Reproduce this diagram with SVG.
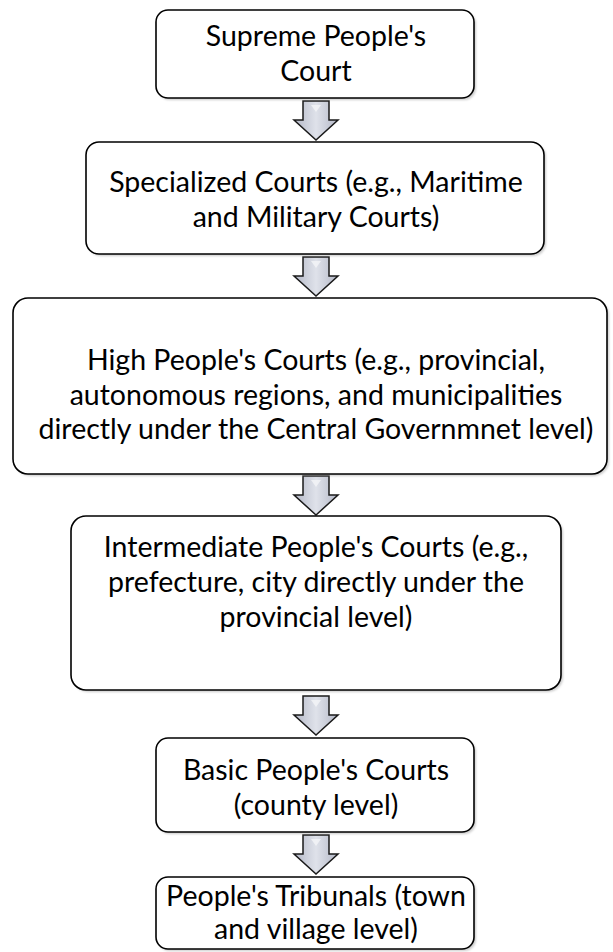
<svg xmlns="http://www.w3.org/2000/svg" width="613" height="952" viewBox="0 0 613 952">
  <style>
    .box { fill: #ffffff; stroke: #000000; stroke-width: 1.6; }
    .shadow { fill: #8c8c8c; opacity: 0.45; filter: url(#soft); }
    .label { font-family: Lato, "Open Sans", sans-serif; font-size: 28.5px; fill: #000000; text-anchor: middle; }
    .arrow { fill: url(#arrowFill); stroke: #1a1a1a; stroke-width: 1.5; stroke-linejoin: miter; }
    .shine { fill: #f4f5f8; opacity: 0.8; }
  </style>
  <defs>
    <filter id="soft" x="-5%" y="-5%" width="110%" height="115%">
      <feGaussianBlur stdDeviation="1.2"/>
    </filter>
    <linearGradient id="arrowFill" x1="0" y1="0" x2="1" y2="0">
      <stop offset="0" stop-color="#b4b8c7"/>
      <stop offset="0.5" stop-color="#dfe2ea"/>
      <stop offset="1" stop-color="#b4b8c7"/>
    </linearGradient>
    <!-- down block arrow, origin at top centre of the shaft -->
    <path id="downArrow" d="M -13 0 L 13 0 L 13 19 L 22 19 L 0 39 L -22 19 L -13 19 Z"/>
    <path id="downShine" d="M -5 4 L 5 4 L 0 11 Z"/>
  </defs>

  <!-- connectors: block arrows between levels -->
  <g id="connectors">
    <use href="#downArrow" class="arrow" x="316" y="101"/>
    <use href="#downShine" class="shine" x="316" y="101"/>
    <use href="#downArrow" class="arrow" x="316" y="257"/>
    <use href="#downShine" class="shine" x="316" y="257"/>
    <use href="#downArrow" class="arrow" x="316" y="476"/>
    <use href="#downShine" class="shine" x="316" y="476"/>
    <use href="#downArrow" class="arrow" x="316" y="696"/>
    <use href="#downShine" class="shine" x="316" y="696"/>
    <use href="#downArrow" class="arrow" x="316" y="835"/>
    <use href="#downShine" class="shine" x="316" y="835"/>
  </g>

  <g id="supreme">
    <rect class="shadow" x="158" y="12" width="318" height="88" rx="12"/>
    <rect class="box" x="156" y="10" width="318" height="88" rx="12"/>
    <text class="label" x="316" y="46">Supreme People's</text>
    <text class="label" x="316" y="81">Court</text>
  </g>

  <g id="specialized">
    <rect class="shadow" x="88" y="144" width="458" height="112" rx="13"/>
    <rect class="box" x="86" y="142" width="458" height="112" rx="13"/>
    <text class="label" x="316" y="192">Specialized Courts (e.g., Maritime</text>
    <text class="label" x="316" y="227">and Military Courts)</text>
  </g>

  <g id="high">
    <rect class="shadow" x="15" y="300" width="594" height="176" rx="15"/>
    <rect class="box" x="13" y="298" width="594" height="176" rx="15"/>
    <text class="label" x="316" y="370">High People's Courts (e.g., provincial,</text>
    <text class="label" x="316" y="405">autonomous regions, and municipalities</text>
    <text class="label" x="316" y="439">directly under the Central Governmnet level)</text>
  </g>

  <g id="intermediate">
    <rect class="shadow" x="73" y="518" width="490" height="174" rx="15"/>
    <rect class="box" x="71" y="516" width="490" height="174" rx="15"/>
    <text class="label" x="316" y="557">Intermediate People's Courts (e.g.,</text>
    <text class="label" x="316" y="592">prefecture, city directly under the</text>
    <text class="label" x="316" y="627">provincial level)</text>
  </g>

  <g id="basic">
    <rect class="shadow" x="158" y="740" width="318" height="94" rx="12"/>
    <rect class="box" x="156" y="738" width="318" height="94" rx="12"/>
    <text class="label" x="316" y="780">Basic People's Courts</text>
    <text class="label" x="316" y="815">(county level)</text>
  </g>

  <g id="tribunals">
    <rect class="shadow" x="158" y="879" width="318" height="72" rx="12"/>
    <rect class="box" x="156" y="877" width="318" height="72" rx="12"/>
    <text class="label" x="316" y="906">People's Tribunals (town</text>
    <text class="label" x="316" y="939">and village level)</text>
  </g>
</svg>
